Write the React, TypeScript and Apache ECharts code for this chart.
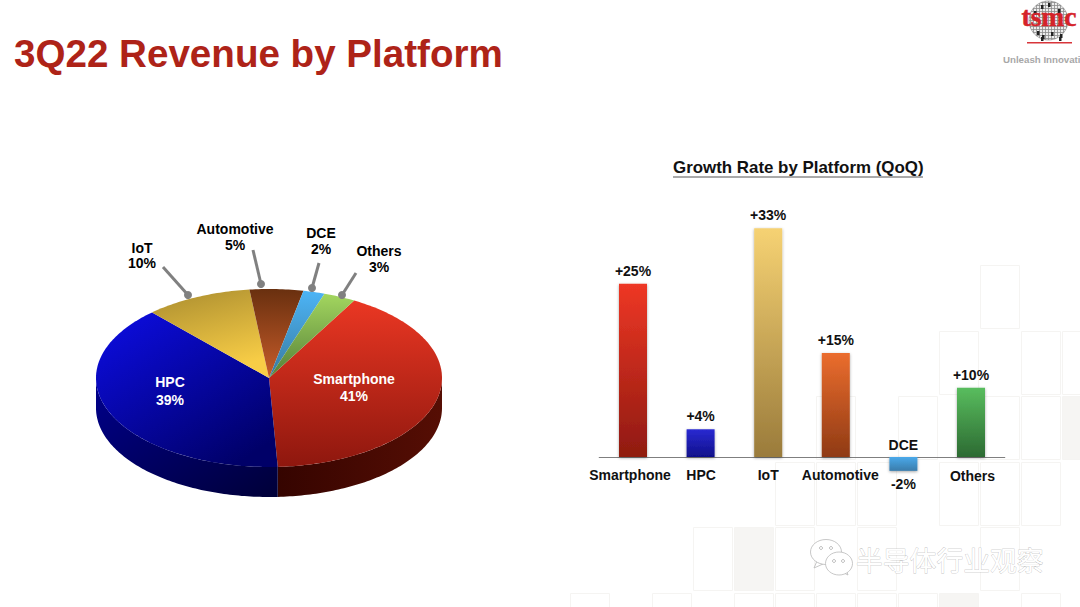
import React, { useEffect, useRef } from "react";
import * as echarts from "echarts";

const pieNames = ["Smartphone", "HPC", "IoT", "Automotive", "DCE", "Others"];
const pieValues = [41, 39, 10, 5, 2, 3];
const growthNames = ["Smartphone", "HPC", "IoT", "Automotive", "DCE", "Others"];
const growthValues = [25, 4, 33, 15, -2, 10];

const FONT = '"Liberation Sans", Arial, sans-serif';
const CX = 269, CY = 378, RX = 173, RY = 89, DEPTH = 30, START = 29.5;

const grad = (x: number, y: number, x2: number, y2: number, a: string, b: string) =>
  new echarts.graphic.LinearGradient(x, y, x2, y2, [
    { offset: 0, color: a },
    { offset: 1, color: b },
  ]);

const sliceFill: Record<string, any> = {
  Smartphone: grad(0, 0, 0, 1, "#ea3723", "#8e170e"),
  HPC: grad(0, 0, 0.75, 1, "#0d0de6", "#000068"),
  IoT: grad(0, 0, 0.35, 1, "#a98c2f", "#f8cd46"),
  Automotive: grad(0, 0, 0, 1, "#69300f", "#c85c2a"),
  DCE: grad(0, 0, 0, 1, "#4cb4f6", "#397a9f"),
  Others: grad(0, 0, 0, 1, "#a3d65f", "#557f38"),
};
const rimFill: Record<string, any> = {
  Smartphone: grad(0, 0, 1, 0, "#350400", "#560e04"),
  HPC: grad(0, 0, 1, 1, "#00008c", "#000038"),
};

// Where each slice's caption and leader line sit on the slide
const pieCaption: Record<string, { x: number; y: number; lh: number; fill: string; leader?: number[] }> = {
  Smartphone: { x: 354, y: 387.5, lh: 17.5, fill: "#ffffff" },
  HPC: { x: 170, y: 391, lh: 17.5, fill: "#ffffff" },
  IoT: { x: 142, y: 255.5, lh: 15.5, fill: "#000000", leader: [163, 267, 188, 295] },
  Automotive: { x: 235, y: 237, lh: 16, fill: "#000000", leader: [253, 250, 261, 284] },
  DCE: { x: 321, y: 241, lh: 16, fill: "#000000", leader: [319, 263, 312, 288] },
  Others: { x: 379, y: 259, lh: 16, fill: "#000000", leader: [356, 273, 342, 295] },
};

const barFill: Record<string, any> = {
  Smartphone: ["#ee3725", "#8f1a10"],
  HPC: ["#2a2ad2", "#10108a"],
  IoT: ["#f6d273", "#9a7b3b"],
  Automotive: ["#eb6d2e", "#8f3a14"],
  DCE: ["#4aa9ea", "#3a7cab"],
  Others: ["#59bd5e", "#2c6a32"],
};

const tileRows: [number, number[]][] = [
  [265, [980]],
  [331, [939, 1021, 1062]],
  [396, [816, 898, 980, 1021]],
  [462, [775, 816, 857, 939, 980, 1021]],
  [527, [693, 775, 857, 980]],
  [593, [570, 652, 734, 775, 816, 857, 898, 1021]],
];
const shadedTiles = [
  [1062, 396],
  [734, 527],
  [939, 593],
];
const waferDies = [
  [1041, 5], [1048, 3], [1058, 9], [1037, 31], [1042, 35], [1041, 37],
  [1051, 32], [1060, 34], [1059, 37], [1034, 11],
];

function ellipsePoint(deg: number, dy = 0) {
  const r = (deg * Math.PI) / 180;
  return [CX + RX * Math.sin(r), CY - RY * Math.cos(r) + dy];
}

function arc(a: number, b: number, dy = 0) {
  const pts: number[][] = [];
  const n = Math.max(2, Math.ceil(Math.abs(b - a)));
  for (let i = 0; i <= n; i++) pts.push(ellipsePoint(a + ((b - a) * i) / n, dy));
  return pts;
}

function renderSlice(params: any) {
  const i = params.dataIndex;
  const name = pieNames[i];
  const total = pieValues.reduce((s, v) => s + v, 0);
  const before = pieValues.slice(0, i).reduce((s, v) => s + v, 0);
  const a = START + (before / total) * 360;
  const b = a + (pieValues[i] / total) * 360;
  const children: any[] = [];
  const ra = Math.max(a, 90);
  const rb = Math.min(b, 270);
  if (rb > ra) {
    children.push({
      type: "polygon",
      shape: { points: [...arc(ra, rb), ...arc(rb, ra, DEPTH)] },
      style: { fill: rimFill[name] },
    });
  }
  const cap = pieCaption[name];
  children.push({
    type: "polygon",
    shape: { points: [[CX, CY], ...arc(a, b)] },
    style: { fill: sliceFill[name] },
  });
  if (cap.leader) {
    const [x1, y1, x2, y2] = cap.leader;
    children.push({
      type: "line",
      shape: { x1, y1, x2, y2 },
      style: { stroke: "#808080", lineWidth: 3 },
    });
    children.push({
      type: "circle",
      shape: { cx: x2, cy: y2, r: 4 },
      style: { fill: "#808080" },
    });
  }
  children.push({
    type: "text",
    style: {
      text: `${name}\n${pieValues[i]}%`,
      x: cap.x,
      y: cap.y,
      fill: cap.fill,
      align: "center",
      verticalAlign: "middle",
      lineHeight: cap.lh,
      font: `bold 14px ${FONT}`,
    },
  });
  return { type: "group", children };
}

function waferGraphic() {
  const cx = 1048.5, cy = 20.5, r = 19.5;
  const children: any[] = [
    { type: "circle", shape: { cx, cy, r }, style: { fill: "#ededed", stroke: "#9a9a9a", lineWidth: 0.8 } },
  ];
  for (let d = -18; d <= 18; d += 3) {
    const h = Math.sqrt(r * r - d * d);
    children.push({
      type: "line",
      shape: { x1: cx + d, y1: cy - h, x2: cx + d, y2: cy + h },
      style: { stroke: "#8c8c8c", lineWidth: 0.8 },
    });
    children.push({
      type: "line",
      shape: { x1: cx - h, y1: cy + d, x2: cx + h, y2: cy + d },
      style: { stroke: "#8c8c8c", lineWidth: 0.8 },
    });
  }
  waferDies.forEach(([x, y]) =>
    children.push({ type: "rect", shape: { x, y, width: 2.5, height: 4 }, style: { fill: "#222222" } })
  );
  children.push({
    type: "text",
    style: {
      text: "tsmc",
      x: 1049,
      y: 30,
      align: "center",
      verticalAlign: "bottom",
      fill: "#d5232a",
      stroke: "#d5232a",
      lineWidth: 0.5,
      font: 'bold 27.5px "Liberation Serif", serif',
    },
  });
  children.push({
    type: "rect",
    shape: { x: 1027, y: 42, width: 45, height: 1.6 },
    style: { fill: "#d8353a" },
  });
  children.push({
    type: "text",
    style: {
      text: "Unleash Innovation",
      x: 1003,
      y: 59,
      verticalAlign: "middle",
      fill: "#a8a8a8",
      font: `bold 9.7px ${FONT}`,
    },
  });
  return { type: "group", children };
}

function tilesGraphic() {
  const children: any[] = [];
  tileRows.forEach(([y, xs]) =>
    xs.forEach((x) =>
      children.push({
        type: "rect",
        shape: { x: x + 0.5, y: y + 0.5, width: 39, height: 63 },
        style: { fill: "#ffffff", stroke: "#f5f4f2", lineWidth: 1 },
      })
    )
  );
  shadedTiles.forEach(([x, y]) =>
    children.push({
      type: "rect",
      shape: { x: x + 0.5, y: y + 0.5, width: 39, height: 63 },
      style: { fill: "#f6f5f3", stroke: "#f5f4f2", lineWidth: 1 },
    })
  );
  return { type: "group", z: -10, silent: true, children };
}

function watermarkGraphic() {
  const bubble = { fill: "#ffffff", stroke: "#b9b9b9", lineWidth: 0.8 };
  const dot = { fill: "#ffffff", stroke: "#a8a8a8", lineWidth: 0.8 };
  return {
    type: "group",
    z: 50,
    silent: true,
    children: [
      { type: "polygon", shape: { points: [[817, 561], [814, 568], [823, 564]] }, style: bubble },
      { type: "ellipse", shape: { cx: 826, cy: 552, rx: 15.5, ry: 12.5 }, style: bubble },
      { type: "circle", shape: { cx: 821, cy: 548, r: 1.5 }, style: dot },
      { type: "circle", shape: { cx: 831, cy: 548, r: 1.5 }, style: dot },
      { type: "polygon", shape: { points: [[842, 572], [848, 575], [846, 569]] }, style: bubble },
      { type: "ellipse", shape: { cx: 839, cy: 563.5, rx: 13.5, ry: 11.5 }, style: bubble },
      { type: "circle", shape: { cx: 834, cy: 561, r: 1.5 }, style: dot },
      { type: "circle", shape: { cx: 843, cy: 561, r: 1.5 }, style: dot },
      {
        type: "text",
        style: {
          text: "半导体行业观察",
          x: 856,
          y: 559,
          verticalAlign: "middle",
          fill: "#ffffff",
          stroke: "#a9a9a9",
          lineWidth: 0.5,
          font: '26.8px "Noto Sans CJK SC", sans-serif',
        },
      },
    ],
  };
}

const categoryLabelStyle: Record<string, any> = {
  Smartphone: { padding: [0, 6, 0, 0] },
  HPC: { padding: [0, 0, 0, 1] },
  Automotive: { padding: [0, 0, 0, 9] },
  DCE: { verticalAlign: "bottom", padding: [0, 0, 16, 0] },
  Others: { padding: [1, 0, 0, 3] },
};

export default function App() {
  const ref = useRef<HTMLDivElement>(null);
  useEffect(() => {
    const chart = echarts.init(ref.current!, undefined, { renderer: "svg" });
    chart.setOption({
      animation: false,
      backgroundColor: "#ffffff",
      title: [
        {
          text: "3Q22 Revenue by Platform",
          left: 14,
          top: 34,
          padding: 0,
          textStyle: { color: "#ae2318", fontSize: 38.6, fontWeight: "bold", fontFamily: FONT },
        },
        {
          text: "Growth Rate by Platform (QoQ)",
          left: 673,
          top: 159,
          padding: 0,
          textStyle: { color: "#111111", fontSize: 16.9, fontWeight: "bold", fontFamily: FONT },
        },
      ],
      grid: { left: 599.2, width: 405.6, top: 179.8, height: 346.5 },
      xAxis: {
        type: "category",
        data: growthNames.map((n) => ({ value: n, textStyle: categoryLabelStyle[n] || {} })),
        axisLine: { onZero: true, lineStyle: { color: "#7f7f7f", width: 1 } },
        axisTick: { show: false },
        axisLabel: {
          interval: 0,
          margin: -58,
          color: "#111111",
          fontSize: 14,
          fontWeight: "bold",
          fontFamily: FONT,
        },
      },
      yAxis: { type: "value", min: -10, max: 40, interval: 10, show: false },
      graphic: [
        tilesGraphic(),
        waferGraphic(),
        watermarkGraphic(),
        {
          type: "line",
          shape: { x1: 673, y1: 177, x2: 923, y2: 177 },
          style: { stroke: "#555555", lineWidth: 1 },
        },
      ],
      series: [
        {
          type: "custom",
          coordinateSystem: "none",
          clip: false,
          silent: true,
          data: pieNames.map((name, i) => ({ name, value: pieValues[i] })),
          renderItem: renderSlice,
        },
        {
          type: "bar",
          barWidth: 28,
          silent: true,
          data: growthValues.map((value, i) => ({
            value,
            itemStyle: {
              color: grad(0, 0, 0, 1, barFill[growthNames[i]][0], barFill[growthNames[i]][1]),
              shadowBlur: 3,
              shadowColor: "rgba(0,0,0,0.35)",
              shadowOffsetY: 1,
            },
            label: { position: value < 0 ? "bottom" : "top" },
          })),
          label: {
            show: true,
            distance: 6,
            color: "#111111",
            fontSize: 14,
            fontWeight: "bold",
            fontFamily: FONT,
            formatter: (p: any) => `${p.value > 0 ? "+" : ""}${p.value}%`,
          },
        },
      ],
    });
    return () => chart.dispose();
  }, []);
  return (
    <div
      ref={ref}
      style={{ position: "absolute", left: 0, top: 0, width: 1080, height: 607, overflow: "hidden" }}
    />
  );
}
